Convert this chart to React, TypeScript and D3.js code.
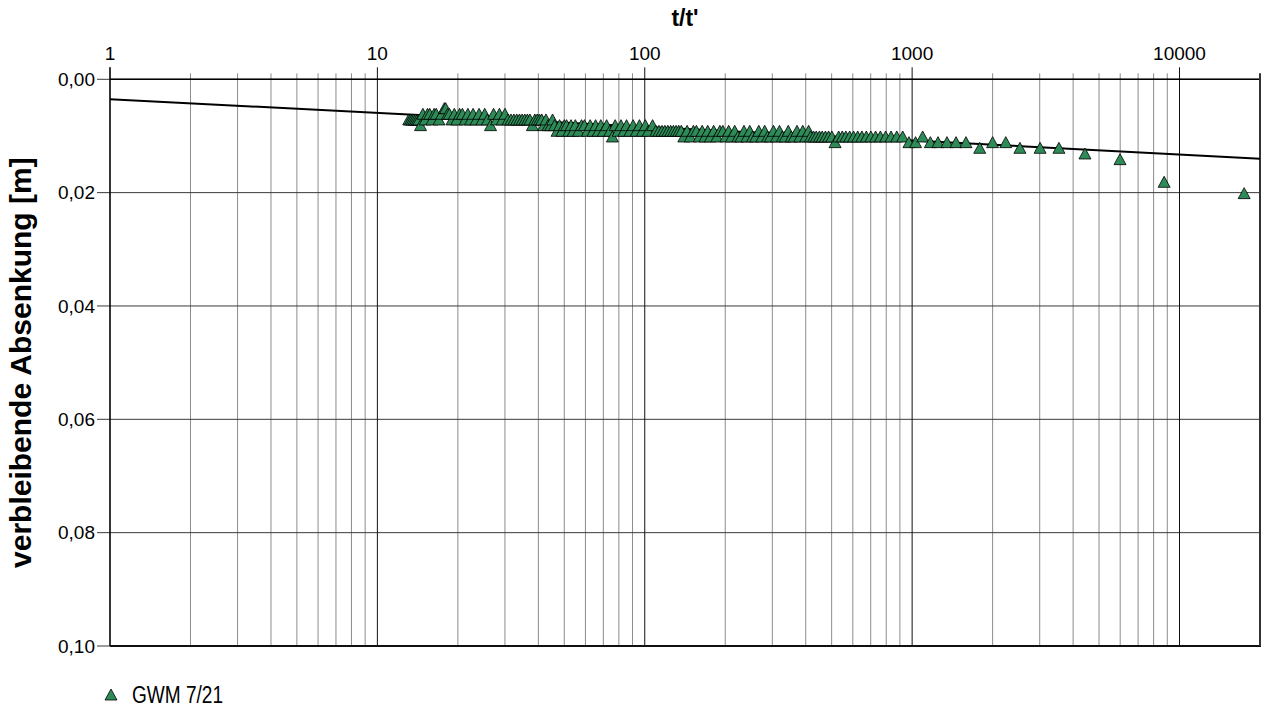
import React from "react";
import * as d3 from "d3";

// t/t' values (ascending) and residual drawdown [m]
const ratio = [
  13.1, 13.3, 13.5, 13.7, 13.9, 14.1, 14.3, 14.5, 14.8, 15.1, 15.4, 15.7, 16.0, 16.3, 16.6, 17.0, 17.4, 17.8, 18.0, 18.3,
  18.6, 19.0, 19.4, 19.8, 20.3, 20.8, 21.3, 21.8, 22.3, 22.8, 23.4, 24.0, 24.6, 25.2, 25.8, 26.5, 27.2, 27.9, 28.6, 29.3,
  30.0, 30.8, 31.6, 32.4, 33.2, 34.0, 34.8, 35.6, 36.4, 37.2, 38.0, 38.8, 39.6, 40.4, 41.2, 41.9, 42.7, 43.5, 44.5, 45.2,
  46.0, 47.0, 48.0, 49.0, 50.0, 51.0, 52.0, 53.0, 54.0, 55.0, 56.5, 58.0, 59.5, 61.0, 62.5, 64.0, 65.5, 67.0, 68.5, 70.0,
  72.0, 74.0, 75.7, 77.5, 79.5, 81.5, 83.5, 85.5, 88.0, 90.5, 93.0, 95.5, 98.0, 100.5, 103.0, 107, 110, 113, 116, 119,
  122, 125, 128, 131, 134, 137, 140, 144, 148, 152, 156, 160, 164, 168, 172, 176, 181, 186, 191, 196,
  201, 206, 211, 217, 223, 229, 235, 241, 247, 253, 260, 267, 274, 281, 288, 295, 303, 311, 319, 327,
  335, 344, 353, 362, 371, 380, 390, 400, 410, 417, 428, 438, 450, 461, 474, 487, 501, 515, 531, 548,
  565, 584, 604, 626, 649, 674, 701, 730, 761, 796, 834, 876, 922, 973, 1030, 1095, 1170, 1250, 1350, 1460,
  1590, 1790, 2000, 2240, 2530, 3010, 3540, 4430, 5990, 8760, 17450,
];
const drawdown = [
  0.007, 0.007, 0.007, 0.007, 0.007, 0.007, 0.007, 0.008, 0.006, 0.007, 0.006, 0.006, 0.007, 0.006, 0.006, 0.007, 0.006, 0.005, 0.005, 0.006,
  0.006, 0.007, 0.006, 0.007, 0.006, 0.006, 0.007, 0.006, 0.007, 0.006, 0.007, 0.006, 0.007, 0.006, 0.007, 0.008, 0.006, 0.007, 0.006, 0.007,
  0.006, 0.007, 0.007, 0.007, 0.007, 0.007, 0.007, 0.007, 0.007, 0.007, 0.008, 0.007, 0.007, 0.007, 0.007, 0.008, 0.007, 0.008, 0.008, 0.007,
  0.008, 0.009, 0.008, 0.009, 0.008, 0.008, 0.009, 0.008, 0.009, 0.008, 0.009, 0.008, 0.008, 0.009, 0.008, 0.009, 0.008, 0.009, 0.008, 0.009,
  0.008, 0.009, 0.010, 0.008, 0.009, 0.008, 0.009, 0.008, 0.009, 0.008, 0.009, 0.008, 0.009, 0.008, 0.009, 0.008, 0.009, 0.009, 0.009, 0.009,
  0.009, 0.009, 0.009, 0.009, 0.009, 0.009, 0.010, 0.009, 0.010, 0.009, 0.009, 0.010, 0.009, 0.010, 0.009, 0.010, 0.009, 0.010, 0.009, 0.009,
  0.010, 0.009, 0.010, 0.009, 0.010, 0.010, 0.009, 0.010, 0.009, 0.010, 0.010, 0.009, 0.010, 0.009, 0.010, 0.010, 0.009, 0.010, 0.009, 0.010,
  0.010, 0.009, 0.010, 0.010, 0.009, 0.010, 0.009, 0.010, 0.009, 0.010, 0.010, 0.010, 0.010, 0.010, 0.010, 0.010, 0.010, 0.011, 0.010, 0.010,
  0.010, 0.010, 0.010, 0.010, 0.010, 0.010, 0.010, 0.010, 0.010, 0.010, 0.010, 0.010, 0.010, 0.011, 0.011, 0.010, 0.011, 0.011, 0.011, 0.011,
  0.011, 0.012, 0.011, 0.011, 0.012, 0.012, 0.012, 0.013, 0.014, 0.018, 0.020,
];

// straight-line fit (semi-log)
const fitRatio = [1, 20000];
const fitDrawdown = [0.0035, 0.014];

const xDomain = [1, 20000];
const yDomain = [0, 0.1];
const xMajorTicks = [1, 10, 100, 1000, 10000];
const yTicks = [0, 0.02, 0.04, 0.06, 0.08, 0.1];
const seriesName = "GWM 7/21";
const xTitle = "t/t'";
const yTitle = "verbleibende Absenkung [m]";

const FONT = "'Liberation Sans', Arial, sans-serif";
const GREEN = "#2E8B57";
const TRI = "M0,-5L6,6L-6,6Z";

export default function App() {
  const left = 110, right = 1260, top = 79.3, bottom = 646;
  const x = d3.scaleLog().domain(xDomain).range([left, right]);
  const y = d3.scaleLinear().domain(yDomain).range([top, bottom]);

  const minor: number[] = [];
  xMajorTicks.forEach((d) => {
    for (let k = 2; k <= 9; k++) {
      const v = d * k;
      if (v < xDomain[1]) minor.push(v);
    }
  });

  const fmt = (v: number) => d3.format(".2f")(v).replace(".", ",");
  const line = d3
    .line<number>()
    .x((_, i) => x(fitRatio[i]))
    .y((d) => y(d));

  return (
    <svg
      width={1265}
      height={708}
      style={{ position: "absolute", left: 0, top: 0, background: "#fff" }}
      fontFamily={FONT}
    >
      <rect x={0} y={0} width={1265} height={708} fill="#fff" />
      {/* minor vertical grid */}
      {minor.map((v) => (
        <line key={"m" + v} x1={x(v)} x2={x(v)} y1={top - 6} y2={bottom} stroke="#8c8c8c" strokeWidth={1} />
      ))}
      {/* horizontal grid */}
      {yTicks.map((v) => (
        <line key={"h" + v} x1={left - 13} x2={right} y1={y(v)} y2={y(v)} stroke="#3a3a3a" strokeWidth={1} />
      ))}
      {/* major vertical grid */}
      {xMajorTicks.map((v) => (
        <line key={"M" + v} x1={x(v)} x2={x(v)} y1={top - 12} y2={bottom} stroke="#111" strokeWidth={1} />
      ))}
      {/* frame */}
      <line x1={left} x2={right} y1={top} y2={top} stroke="#000" strokeWidth={1.5} />
      <line x1={left} x2={right + 1} y1={bottom} y2={bottom} stroke="#111" strokeWidth={2} />
      <line x1={left} x2={left} y1={top - 12} y2={bottom} stroke="#000" strokeWidth={1.2} />
      <line x1={right} x2={right} y1={top - 6} y2={bottom} stroke="#333" strokeWidth={2} />

      {/* fit line */}
      <path d={line(fitDrawdown) || ""} fill="none" stroke="#000" strokeWidth={2} />

      {/* points */}
      {ratio.map((r, i) => (
        <path
          key={"p" + i}
          d={TRI}
          transform={`translate(${x(r)},${y(drawdown[i])})`}
          fill={GREEN}
          stroke="#000"
          strokeWidth={0.8}
        />
      ))}

      {/* x tick labels (top) */}
      {xMajorTicks.map((v) => (
        <text key={"xl" + v} x={x(v)} y={60} textAnchor="middle" fontSize={19} fill="#000">
          {v}
        </text>
      ))}
      {/* y tick labels */}
      {yTicks.map((v) => (
        <text key={"yl" + v} x={95} y={y(v)} dy="0.35em" textAnchor="end" fontSize={19} fill="#000">
          {fmt(v)}
        </text>
      ))}

      {/* titles */}
      <text x={(left + right) / 2} y={26} textAnchor="middle" fontSize={23} fontWeight="bold">
        {xTitle}
      </text>
      <text
        transform={`translate(31,${(top + bottom) / 2}) rotate(-90)`}
        textAnchor="middle"
        fontSize={30}
        fontWeight="bold"
      >
        {yTitle}
      </text>

      {/* legend */}
      <path d={TRI} transform="translate(111,694)" fill={GREEN} stroke="#000" strokeWidth={0.8} />
      <text x={132} y={703} fontSize={23} textLength={91} lengthAdjust="spacingAndGlyphs">
        {seriesName}
      </text>
    </svg>
  );
}
